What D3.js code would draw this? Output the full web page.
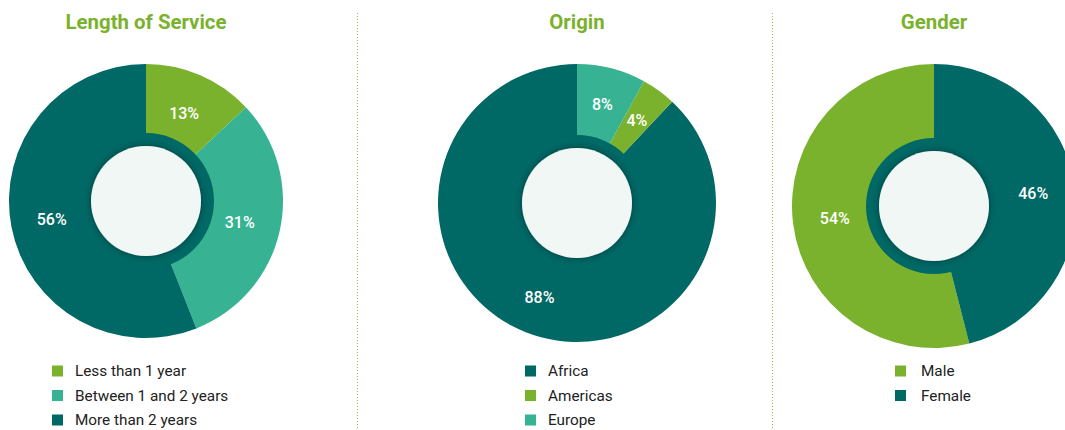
<!DOCTYPE html>
<html>
<head>
<meta charset="utf-8">
<script src="https://cdn.jsdelivr.net/npm/d3@7"></script>
<style>
  html, body { margin: 0; padding: 0; background: #ffffff; }
  svg { display: block; }
</style>
</head>
<body>
<svg id="chart" width="1065" height="430"></svg>
<script>
// ---- Data ----
const titles = ["Length of Service", "Origin", "Gender"];

const serviceCategories = ["Less than 1 year", "Between 1 and 2 years", "More than 2 years"];
const serviceValues = [13, 31, 56];

const originCategories = ["Africa", "Americas", "Europe"];
const originValues = [88, 4, 8];

const genderCategories = ["Male", "Female"];
const genderValues = [54, 46];

// ---- Styles ----
const GREEN = "#7ab22d", MID = "#37b393", DARK = "#006865";
const serviceColors = [GREEN, MID, DARK];
const originColors = [DARK, GREEN, MID];
const genderColors = [GREEN, DARK];

const svg = d3.select("#chart");
const defs = svg.append("defs");
const f = defs.append("filter").attr("id", "shadow")
  .attr("x", "-30%").attr("y", "-30%").attr("width", "160%").attr("height", "160%");
f.append("feDropShadow").attr("dx", 0).attr("dy", 0).attr("stdDeviation", 3)
  .attr("flood-color", "#002a28").attr("flood-opacity", 0.7);

const maleShare = genderValues[0] / d3.sum(genderValues);

const panels = [
  { title: titles[0], cats: serviceCategories, vals: serviceValues, colors: serviceColors,
    cx: 146, cy: 201, r: 137, start: 0, end: 2 * Math.PI, labelR: 96,
    legendX: 52, textX: 75 },
  { title: titles[1], cats: originCategories, vals: originValues, colors: originColors,
    cx: 577, cy: 203, r: 139, start: 0, end: -2 * Math.PI, labelR: 102,
    legendX: 525, textX: 548 },
  { title: titles[2], cats: genderCategories, vals: genderValues, colors: genderColors,
    cx: 934, cy: 206, r: 142, start: -2 * Math.PI * maleShare,
    end: 2 * Math.PI - 2 * Math.PI * maleShare, labelR: 100,
    legendX: 895, textX: 921 }
];

panels.forEach(p => {
  const g = svg.append("g");
  // title
  g.append("text")
    .attr("x", p.cx).attr("y", 29)
    .attr("text-anchor", "middle")
    .attr("font-family", "Roboto, sans-serif")
    .attr("font-weight", 700)
    .attr("font-size", 20.4)
    .attr("fill", GREEN)
    .text(p.title);

  const pie = d3.pie().sort(null).value(d => d.v).startAngle(p.start).endAngle(p.end);
  const data = pie(p.cats.map((c, i) => ({ c, v: p.vals[i], color: p.colors[i] })));
  const arc = d3.arc().innerRadius(60).outerRadius(p.r);
  const labelArc = d3.arc().innerRadius(p.labelR).outerRadius(p.labelR);

  const cg = g.append("g").attr("transform", `translate(${p.cx},${p.cy})`);
  cg.selectAll("path.slice").data(data).join("path")
    .attr("class", "slice")
    .attr("d", arc)
    .attr("fill", d => d.data.color);

  // inner dark ring
  cg.append("circle").attr("r", 68).attr("fill", DARK);
  // inner light circle with shadow
  cg.append("circle").attr("r", 55).attr("fill", "#f1f7f5").attr("filter", "url(#shadow)");

  cg.selectAll("text.lbl").data(data).join("text")
    .attr("class", "lbl")
    .attr("transform", d => `translate(${labelArc.centroid(d)})`)
    .attr("text-anchor", "middle")
    .attr("dy", "0.35em")
    .attr("font-family", "Roboto, sans-serif")
    .attr("font-weight", 500)
    .attr("font-size", 16)
    .attr("fill", "#ffffff")
    .text(d => d.data.v + "%");

  // legend
  const lg = g.append("g");
  const rows = lg.selectAll("g").data(p.cats).join("g")
    .attr("transform", (d, i) => `translate(0,${371 + i * 24.5})`);
  rows.append("rect").attr("x", p.legendX).attr("y", -5.5).attr("width", 11).attr("height", 11)
    .attr("fill", (d, i) => p.colors[i]);
  rows.append("text").attr("x", p.textX).attr("dy", "0.35em")
    .attr("font-family", "Roboto, sans-serif")
    .attr("font-size", 15.3)
    .attr("fill", "#222222")
    .text(d => d);
});

// dotted dividers
[357.5, 772.5].forEach(x => {
  svg.append("line").attr("x1", x).attr("x2", x).attr("y1", 13).attr("y2", 430)
    .attr("stroke", "#8cbf5c").attr("stroke-width", 1).attr("stroke-dasharray", "1,2");
});
</script>
</body>
</html>
